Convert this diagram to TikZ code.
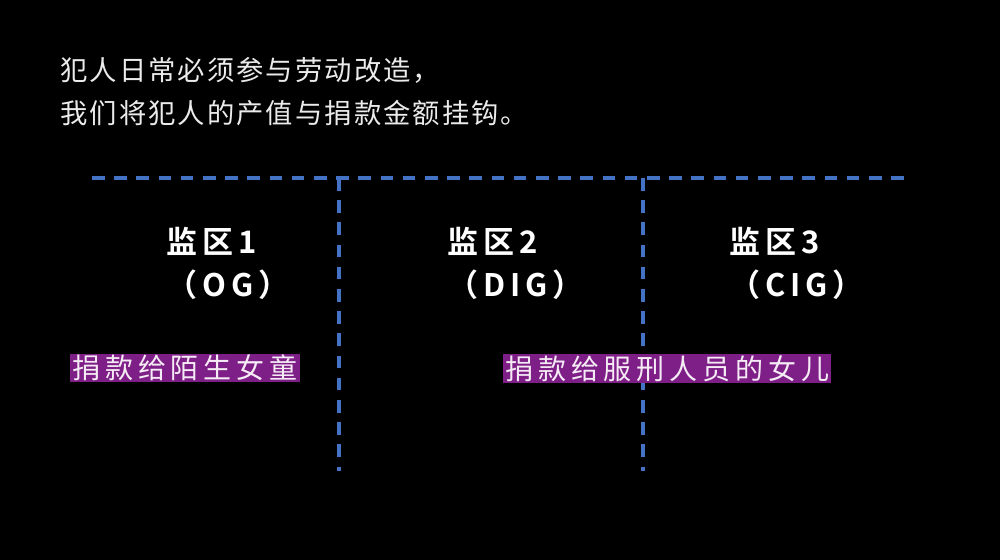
\documentclass[tikz,border=0pt]{standalone}
\usepackage{fontspec}
\setmainfont{Noto Sans CJK SC}
\newfontfamily\headfont[LetterSpace=7.5]{Noto Sans CJK SC}
\newfontfamily\zonefont[LetterSpace=16]{Noto Sans CJK SC Bold}
\newfontfamily\tagfont[LetterSpace=17.5]{Noto Sans CJK SC}
\definecolor{lineblue}{RGB}{68, 114, 196}
\definecolor{tagpurple}{RGB}{126, 30, 135}
\definecolor{headgray}{RGB}{235, 235, 235}
\definecolor{tagtext}{RGB}{245, 235, 245}
\tikzset{
    every node/.style={inner sep=0pt},
    headline/.style={anchor=base west, text=headgray,
        font=\headfont\fontsize{20.5}{24}\selectfont},
    divider/.style={draw=lineblue, line width=2.4pt,
        dash pattern=on 9.5pt off 7.15pt},
    zonename/.style={anchor=base west, text=white,
        font=\zonefont\fontsize{23.25}{28}\selectfont},
    donation/.style={anchor=west, fill=tagpurple, text=tagtext,
        inner xsep=1.5pt, inner ysep=0.75pt,
        font=\tagfont\fontsize{21}{24}\selectfont},
}
\begin{document}
\begin{tikzpicture}[x=0.75pt, y=-0.75pt]
    \useasboundingbox[fill=black] (0, 0) rectangle (1000, 560);
    % header
    \node[headline] (head1) at (60, 81) {犯人日常必须参与劳动改造，};
    \node[headline] (head2) at (60, 123) {我们将犯人的产值与捐款金额挂钩。};
    % dividers
    \coordinate (rowleft) at (92, 178);
    \coordinate (rowright) at (904, 178);
    \draw[divider] (rowleft) -- (rowright);
    \foreach \name/\x in {cutA/339, cutB/643} {
        \coordinate (\name top) at (\x, 178);
        \coordinate (\name bot) at (\x, 471);
        \draw[divider] (\name top) -- (\name bot);
    }
    % zones
    \foreach \i/\x/\code in {1/166/OG, 2/447/DIG, 3/729/CIG} {
        \node[zonename] (zone\i) at (\x, 253) {监区\i};
        \node[zonename] (zone\i code) at (\x, 296) {（\code）};
    }
    \node[donation] (gift1) at (70, 368) {捐款给陌生女童};
    \node[donation] (gift2) at (503, 368.5) {捐款给服刑人员的女儿};
\end{tikzpicture}
\end{document}
